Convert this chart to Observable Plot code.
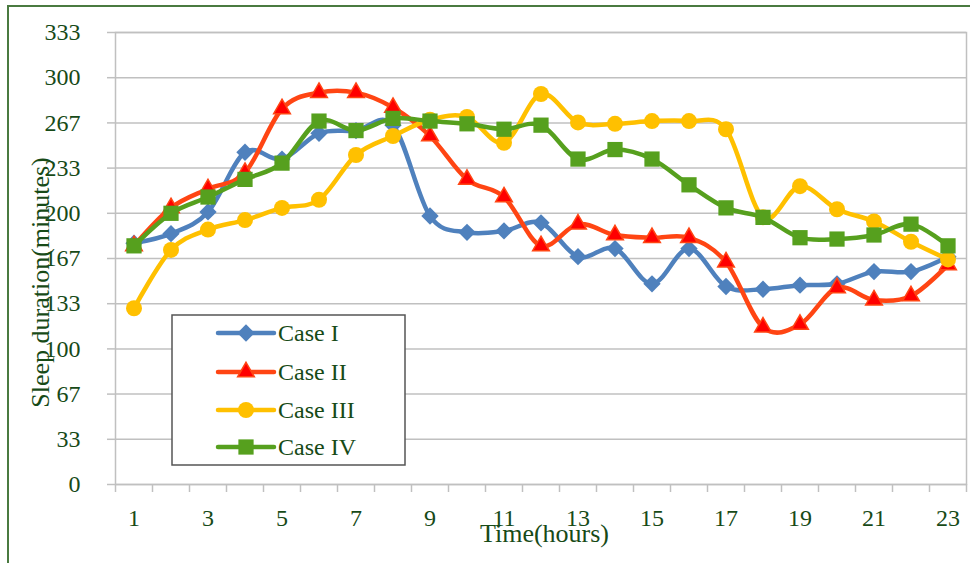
<!DOCTYPE html>
<html>
<head>
<meta charset="utf-8">
<script src="https://cdn.jsdelivr.net/npm/d3@7"></script>
<script src="https://cdn.jsdelivr.net/npm/@observablehq/plot@0.6"></script>
<style>
  html, body { margin: 0; padding: 0; background: #ffffff; }
  #chart { width: 970px; height: 563px; overflow: hidden; }
</style>
</head>
<body>
<div id="chart"></div>
<script>
// ---- data ----
const hours = d3.range(1, 24);
const caseI   = [178, 185, 201, 245, 240, 259, 261, 265, 198, 186, 187, 193, 168, 174, 148, 174, 146, 144, 147, 148, 157, 157, 168];
const caseII  = [176, 204, 218, 230, 277, 289, 289, 278, 257, 225, 212, 176, 192, 184, 182, 182, 164, 116, 118, 145, 136, 139, 162];
const caseIII = [130, 173, 188, 195, 204, 210, 243, 257, 269, 271, 252, 288, 267, 266, 268, 268, 262, 197, 220, 203, 194, 179, 166];
const caseIV  = [176, 200, 212, 225, 237, 268, 261, 270, 268, 266, 262, 265, 240, 247, 240, 221, 204, 197, 182, 181, 184, 192, 176];
const seriesNames = ["Case I", "Case II", "Case III", "Case IV"];
const yTickValues = d3.range(11).map(i => i * 100 / 3);
const xTickLabels = d3.range(1, 24, 2);
const xBoundaries = d3.range(0.5, 24, 1);
const yTitle = "Sleep duration(minutes)";
const xTitle = "Time(hours)";

// ---- styles ----
const styles = [
  {line: "#4F81BD", fill: "#4F81BD", stroke: "#4F81BD", symbol: "diamond2", r: 7.8},
  {line: "#FF4513", fill: "#FF0000", stroke: "#FF4513", symbol: "triangle", r: 6.2},
  {line: "#FFC000", fill: "#FFC000", stroke: "#FFC000", symbol: "circle", r: 8},
  {line: "#56A01E", fill: "#56A01E", stroke: "#56A01E", symbol: "square", r: 8.6}
];
const textColor = "#174a17";
const gridColor = "#c0c0c0";

const allSeries = [caseI, caseII, caseIII, caseIV];
const tables = allSeries.map((vals, k) => hours.map((h, i) => ({hour: h, value: vals[i], name: seriesNames[k]})));

const seriesMarks = [];
tables.forEach((t, k) => {
  const s = styles[k];
  seriesMarks.push(Plot.line(t, {x: "hour", y: "value", stroke: s.line, strokeWidth: 4.5, curve: "cardinal", tension: 0}));
  seriesMarks.push(Plot.dot(t, {x: "hour", y: "value", symbol: s.symbol, r: s.r, fill: s.fill, stroke: s.stroke, strokeWidth: k === 1 ? 1.5 : 0}));
});

const chart = Plot.plot({
  width: 970,
  height: 563,
  marginLeft: 115,
  marginRight: 4,
  marginTop: 32,
  marginBottom: 79,
  style: {fontFamily: "'Liberation Serif', 'Times New Roman', serif", fontSize: "24px", background: "#ffffff", overflow: "visible"},
  x: {domain: [0.5, 23.5], axis: null},
  y: {domain: [0, 1000 / 3], axis: null},
  marks: [
    Plot.gridY(yTickValues, {stroke: gridColor, strokeOpacity: 1, strokeWidth: 1.5}),
    Plot.frame({stroke: gridColor, strokeWidth: 1.5}),
    Plot.axisY(yTickValues, {tickSize: 8, stroke: gridColor, strokeWidth: 1.5, tickFormat: () => "", label: null}),
    Plot.axisY(yTickValues, {tickSize: 0, tickPadding: 35, fill: textColor, fontSize: 24, tickFormat: d => String(Math.round(d)), label: null}),
    Plot.axisX(xBoundaries, {tickSize: 8, stroke: gridColor, strokeWidth: 1.5, tickFormat: () => "", label: null}),
    Plot.axisX(xTickLabels, {tickSize: 0, tickPadding: 24, fill: textColor, fontSize: 24, tickFormat: d => String(d), label: null}),
    ...seriesMarks,
    Plot.text([yTitle], {text: d => d, frameAnchor: "left", dx: -75, dy: 24, rotate: -90, fill: textColor, fontSize: 26, textAnchor: "middle", lineAnchor: "middle"}),
    Plot.text([xTitle], {text: d => d, frameAnchor: "bottom", dx: 3.5, dy: 49, fill: textColor, fontSize: 26, textAnchor: "middle", lineAnchor: "middle"})
  ]
});

document.getElementById("chart").appendChild(chart);

// ---- outer border and legend ----
const svg = d3.select(chart);
svg.append("rect").attr("x", 8).attr("y", 6).attr("width", 1000).attr("height", 700)
  .attr("fill", "none").attr("stroke", "#4a7a40").attr("stroke-width", 2);

const lg = svg.append("g");
lg.append("rect").attr("x", 172).attr("y", 315).attr("width", 233).attr("height", 150)
  .attr("fill", "#ffffff").attr("stroke", "#555555").attr("stroke-width", 1.5);
const symMap = {diamond2: d3.symbolDiamond2, triangle: d3.symbolTriangle, circle: d3.symbolCircle, square: d3.symbolSquare};
const rowY = [333, 372, 410, 447];
seriesNames.forEach((name, k) => {
  const s = styles[k];
  const y = rowY[k];
  lg.append("line").attr("x1", 218).attr("x2", 274).attr("y1", y).attr("y2", y)
    .attr("stroke", s.line).attr("stroke-width", 4.5).attr("stroke-linecap", "round");
  lg.append("path").attr("d", d3.symbol(symMap[s.symbol], s.r * s.r * Math.PI)())
    .attr("transform", `translate(246,${y})`).attr("fill", s.fill).attr("stroke", s.stroke).attr("stroke-width", k === 1 ? 1.5 : 0);
  lg.append("text").attr("x", 278).attr("y", y).attr("dy", "0.35em").attr("fill", textColor)
    .attr("text-anchor", "start").attr("font-size", 24).text(name);
});
</script>
</body>
</html>
